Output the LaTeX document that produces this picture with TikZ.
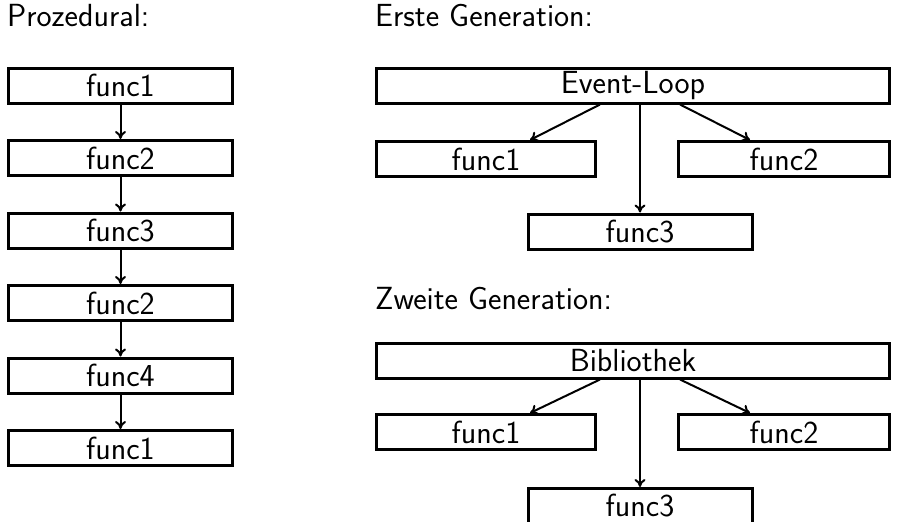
\documentclass[tikz,border=0pt]{standalone}
\usetikzlibrary{arrows.meta,calc}
\begin{document}
\begin{tikzpicture}[x=1pt,y=-1pt,
  every node/.style={font=\fontsize{32}{38}\selectfont\sffamily},
  box/.style={draw, line width=3pt, rectangle, inner sep=0pt, minimum height=35pt},
  heading/.style={anchor=base west, inner sep=0pt},
  arr/.style={line width=2pt, -{To[length=8pt,width=11pt]}}]
\useasboundingbox (0,0) rectangle (897,522);

% headings
\node[heading] (hp) at (7,27) {Prozedural:};
\node[heading] (he) at (375,27) {Erste Generation:};
\node[heading] (hz) at (375,309) {Zweite Generation:};

% procedural chain
\node[box, minimum width=224pt] (p1) at (120.5,85.5) {func1};
\node[box, minimum width=224pt] (p2) at (120.5,158) {func2};
\node[box, minimum width=224pt] (p3) at (120.5,230.5) {func3};
\node[box, minimum width=224pt] (p4) at (120.5,303) {func2};
\node[box, minimum width=224pt] (p5) at (120.5,375.5) {func4};
\node[box, minimum width=224pt] (p6) at (120.5,448) {func1};
\foreach \a/\b in {p1/p2,p2/p3,p3/p4,p4/p5,p5/p6}
  \draw[arr] (\a.south) -- (\b.north);

% first generation: event loop
\node[box, minimum width=513pt] (el) at (633,85.5) {Event-Loop};
\node[box, minimum width=219pt] (ea) at (486,159) {func1};
\node[box, minimum width=211pt] (eb) at (784,159) {func2};
\node[box, minimum width=224pt] (ec) at (640,231.5) {func3};
\draw[arr] ($(ec.north |- el.south)+(-40,0)$) -- ($(ec.north |- ea.north)+(-110,0)$);
\draw[arr] (ec.north |- el.south) -- (ec.north);
\draw[arr] ($(ec.north |- el.south)+(40,0)$) -- ($(ec.north |- eb.north)+(110,0)$);

% second generation: library (its last box runs past the lower edge)
\node[box, minimum width=513pt] (bl) at (633,360.5) {Bibliothek};
\node[box, minimum width=219pt] (ba) at (486,432) {func1};
\node[box, minimum width=211pt] (bb) at (784,432) {func2};
\node[box, minimum width=224pt] (bc) at (640,506) {func3};
\draw[arr] ($(bc.north |- bl.south)+(-40,0)$) -- ($(bc.north |- ba.north)+(-110,0)$);
\draw[arr] (bc.north |- bl.south) -- (bc.north);
\draw[arr] ($(bc.north |- bl.south)+(40,0)$) -- ($(bc.north |- bb.north)+(110,0)$);
\end{tikzpicture}
\end{document}
